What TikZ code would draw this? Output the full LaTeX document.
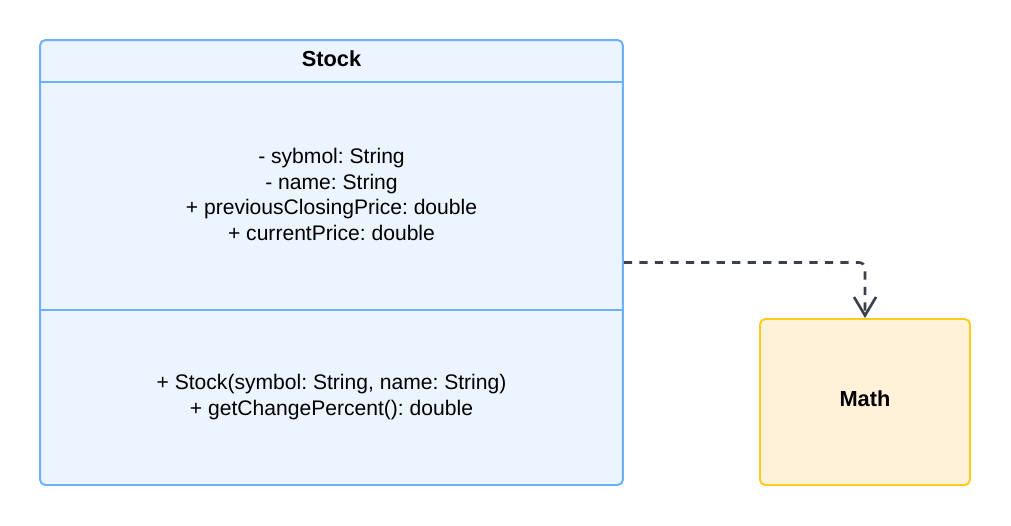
\documentclass[tikz,border=0pt]{standalone}
\usepackage{fontspec}
\setmainfont{Liberation Sans}
\usetikzlibrary{arrows.meta}
\definecolor{classfill}{RGB}{235, 244, 255}
\definecolor{classline}{RGB}{108, 176, 255}
\definecolor{utilfill}{RGB}{255, 242, 217}
\definecolor{utilline}{RGB}{255, 204, 26}
\definecolor{dep}{RGB}{58, 65, 74}
\frenchspacing

\begin{document}
\begin{tikzpicture}[x=0.02cm, y=-0.02cm,
  box/.style={draw, line width=1.1pt, rounded corners=3pt, inner sep=0pt},
  member/.style={align=center, font=\fontsize{12}{14.6}\selectfont},
  title/.style={font=\fontsize{12.4}{15}\selectfont\bfseries},
  dependency/.style={dep, line width=1.5pt, dash pattern=on 4.7pt off 4.1pt,
    rounded corners=3.4pt, -{Straight Barb[length=10.5pt, width=12.5pt]}}]

  \useasboundingbox (0, 0) rectangle (1011, 525);

  % class box
  \node[box, classline, fill=classfill, minimum width=11.66cm, minimum height=8.9cm] (stock) at (331.5, 262.5) {};
  \coordinate (headsep) at (0, 82);
  \coordinate (fieldsep) at (0, 310);
  \draw[classline, line width=1.1pt] (stock.west |- headsep) -- (stock.east |- headsep);
  \draw[classline, line width=1.1pt] (stock.west |- fieldsep) -- (stock.east |- fieldsep);

  \node[title] (stockname) at (331.5, 59) {Stock};
  \node[member] (fields) at (331.5, 194.5) {- sybmol: String\\ - name: String\\ + previousClosingPrice: double\\ + currentPrice: double};
  \node[member] (methods) at (331.5, 397) {+ Stock(symbol: String, name: String)\\ + getChangePercent(): double};

  % helper
  \node[box, utilline, fill=utilfill, minimum width=4.2cm, minimum height=3.32cm] (math) at (865, 402) {};
  \node[title] (mathname) at (865, 399) {Math};

  \draw[dependency] (stock.east) -| (math.north);

\end{tikzpicture}
\end{document}
